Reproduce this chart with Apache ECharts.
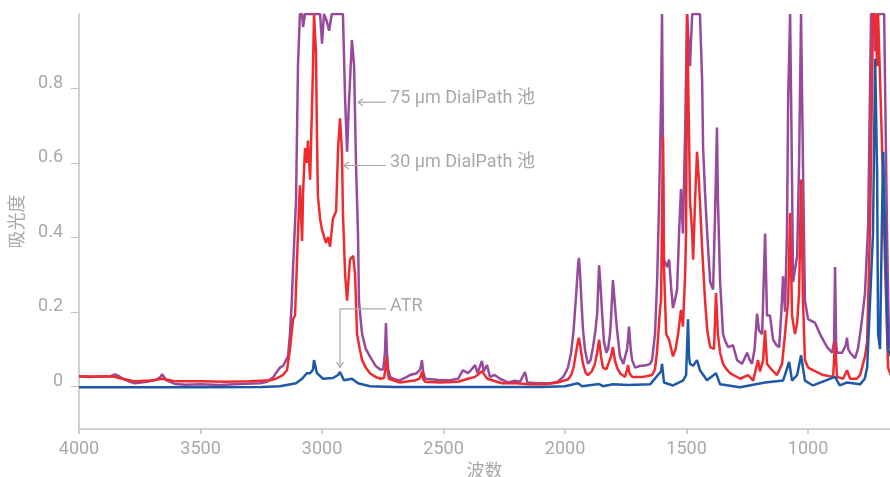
<!DOCTYPE html>
<html>
<head>
<meta charset="utf-8">
<script src="https://cdn.jsdelivr.net/npm/echarts@6/dist/echarts.min.js"></script>
<style>
html,body{margin:0;padding:0;background:#fff;}
#chart{width:890px;height:477px;}
</style>
</head>
<body>
<div id="chart"></div>
<script>
// ---- Data (wavenumber cm-1, absorbance) ----
const xTicks = [4000, 3500, 3000, 2500, 2000, 1500, 1000];
const yTicks = [0, 0.2, 0.4, 0.6, 0.8];

const wn75 = [4000,3960,3900,3870,3852,3835,3820,3790,3770,3720,3680,3665,3658,3650,3640,3605,3560,3500,3420,3337,3255,3226,3200,3190,3173,3160,3152,3140,3132,3125,3119,3107,3099,3091,3082,3078,3070,3008,3000,2992,2980,2971,2960,2914,2905,2897,2890,2877,2868,2860,2852,2848,2840,2835,2820,2803,2780,2761,2748,2741,2737,2733,2728,2720,2700,2679,2650,2638,2610,2597,2592,2589,2584,2576,2540,2514,2473,2440,2420,2400,2391,2370,2360,2342,2335,2321,2309,2290,2268,2235,2206,2185,2165,2155,2115,2060,2030,2008,1995,1988,1975,1965,1955,1947,1943,1938,1932,1926,1918,1906,1895,1885,1875,1868,1860,1855,1848,1840,1830,1823,1815,1811,1803,1795,1786,1774,1760,1753,1745,1741,1737,1730,1724,1712,1690,1680,1663,1650,1642,1630,1621,1613,1605,1601,1597,1593,1589,1580,1572,1564,1556,1545,1539,1531,1523,1515,1506,1498,1490,1486,1477,1445,1436,1432,1424,1416,1403,1391,1383,1375,1371,1362,1350,1340,1329,1309,1292,1272,1251,1240,1231,1220,1210,1202,1189,1177,1169,1157,1144,1130,1119,1110,1103,1095,1087,1082,1074,1066,1062,1045,1037,1029,1021,1013,1000,971,951,922,901,893,889,885,881,860,845,840,835,827,807,795,786,778,766,753,741,730,724,716,687,675,667,660];
const abs75 = [0.027,0.025,0.026,0.027,0.032,0.027,0.02,0.012,0.008,0.012,0.018,0.025,0.032,0.025,0.016,0.006,0.004,0.005,0.003,0.006,0.008,0.012,0.025,0.035,0.05,0.055,0.06,0.08,0.14,0.22,0.32,0.5,0.86,1.0,1.0,0.965,1.0,1.0,0.92,1.0,0.98,0.955,1.0,1.0,0.77,0.63,0.75,0.93,0.86,0.59,0.41,0.23,0.17,0.14,0.1,0.08,0.055,0.045,0.045,0.09,0.17,0.09,0.045,0.025,0.018,0.016,0.025,0.03,0.035,0.045,0.055,0.07,0.04,0.02,0.018,0.016,0.016,0.02,0.043,0.035,0.04,0.057,0.035,0.068,0.04,0.057,0.025,0.03,0.02,0.01,0.015,0.012,0.038,0.01,0.008,0.008,0.012,0.025,0.04,0.05,0.09,0.15,0.24,0.32,0.345,0.3,0.22,0.15,0.097,0.06,0.07,0.105,0.15,0.195,0.325,0.28,0.2,0.12,0.09,0.1,0.14,0.18,0.285,0.22,0.15,0.08,0.06,0.065,0.1,0.125,0.16,0.1,0.07,0.05,0.055,0.055,0.057,0.06,0.07,0.14,0.285,0.5,0.77,1.0,0.6,0.34,0.34,0.32,0.34,0.27,0.21,0.24,0.26,0.41,0.53,0.41,0.68,1.0,1.0,0.86,1.0,1.0,0.82,0.64,0.52,0.42,0.28,0.26,0.455,0.695,0.5,0.28,0.14,0.12,0.105,0.11,0.07,0.06,0.09,0.07,0.06,0.1,0.195,0.15,0.14,0.41,0.19,0.19,0.125,0.11,0.105,0.2,0.295,0.2,0.41,0.77,1.0,0.55,0.28,0.35,0.6,1.0,0.59,0.23,0.18,0.17,0.14,0.105,0.09,0.12,0.32,0.12,0.09,0.09,0.11,0.13,0.1,0.09,0.075,0.1,0.14,0.18,0.25,0.43,1.0,1.0,0.9,1.0,1.0,0.4,0.12,0.1];

const wn30 = [4000,3950,3900,3860,3820,3770,3700,3658,3600,3500,3400,3300,3214,3190,3161,3144,3132,3119,3111,3099,3091,3082,3078,3070,3062,3058,3049,3037,3033,3025,3021,3017,3008,3000,2992,2984,2975,2967,2955,2942,2934,2926,2918,2914,2905,2897,2885,2872,2864,2856,2845,2835,2820,2803,2780,2761,2745,2738,2733,2729,2725,2679,2620,2600,2592,2589,2584,2576,2514,2440,2400,2370,2342,2320,2260,2200,2150,2080,2030,2000,1988,1975,1965,1955,1947,1943,1938,1930,1926,1915,1906,1890,1877,1868,1860,1852,1844,1830,1823,1811,1803,1795,1786,1774,1753,1745,1741,1735,1724,1679,1642,1630,1621,1609,1605,1601,1597,1593,1584,1572,1556,1545,1535,1523,1515,1506,1502,1498,1490,1486,1477,1473,1465,1457,1449,1436,1424,1415,1403,1387,1379,1371,1362,1350,1335,1321,1280,1247,1226,1206,1198,1185,1177,1169,1148,1128,1107,1095,1082,1074,1066,1054,1045,1037,1029,1021,1013,1000,980,938,897,889,881,856,840,827,799,786,778,766,757,745,733,724,716,712,696,683,671,660];
const abs30 = [0.027,0.026,0.027,0.026,0.02,0.013,0.015,0.02,0.013,0.013,0.012,0.013,0.016,0.02,0.03,0.043,0.1,0.18,0.19,0.41,0.54,0.39,0.52,0.64,0.6,0.66,0.555,0.86,1.0,0.9,0.68,0.51,0.45,0.42,0.42,0.385,0.4,0.375,0.45,0.47,0.64,0.72,0.63,0.465,0.3,0.23,0.34,0.35,0.3,0.14,0.1,0.07,0.05,0.035,0.025,0.02,0.022,0.05,0.08,0.04,0.02,0.01,0.015,0.02,0.03,0.04,0.02,0.012,0.01,0.012,0.02,0.025,0.04,0.02,0.008,0.008,0.005,0.005,0.01,0.016,0.018,0.03,0.05,0.09,0.12,0.13,0.11,0.075,0.06,0.035,0.03,0.04,0.06,0.09,0.125,0.08,0.05,0.045,0.05,0.08,0.105,0.07,0.05,0.035,0.025,0.045,0.057,0.035,0.025,0.025,0.03,0.045,0.097,0.21,0.23,0.455,0.67,0.32,0.14,0.125,0.08,0.1,0.14,0.205,0.16,0.3,0.41,1.0,0.68,0.5,0.41,0.34,0.5,0.63,0.55,0.37,0.23,0.15,0.105,0.1,0.25,0.14,0.09,0.06,0.045,0.035,0.02,0.03,0.015,0.07,0.04,0.07,0.15,0.06,0.043,0.03,0.06,0.14,0.23,0.465,0.19,0.14,0.17,0.25,0.555,0.23,0.07,0.05,0.043,0.03,0.025,0.12,0.025,0.02,0.043,0.02,0.02,0.03,0.05,0.08,0.12,0.43,1.0,1.0,0.86,1.0,0.65,0.32,0.05,0.03];

const wnATR = [4000,3500,3250,3173,3107,3082,3062,3049,3037,3033,3021,2996,2955,2934,2926,2910,2877,2852,2803,2700,2400,2100,2000,1947,1930,1860,1844,1803,1741,1650,1605,1601,1593,1556,1515,1502,1494,1490,1486,1473,1457,1445,1416,1379,1362,1280,1177,1103,1078,1066,1045,1029,1013,980,889,870,840,786,767,757,745,733,724,716,712,704,696,691,679,671,660];
const absATR = [-0.003,-0.003,-0.002,0.0,0.008,0.02,0.035,0.035,0.045,0.07,0.035,0.02,0.022,0.03,0.038,0.016,0.02,0.008,0.0,-0.002,-0.002,-0.002,0.0,0.008,0.0,0.006,0.0,0.005,0.003,0.005,0.04,0.06,0.01,0.002,0.015,0.03,0.18,0.08,0.06,0.055,0.07,0.043,0.016,0.035,0.005,-0.003,0.01,0.015,0.065,0.015,0.03,0.083,0.015,0.002,0.025,0.002,0.01,0.005,0.02,0.05,0.23,0.41,0.88,0.57,0.14,0.1,0.45,0.63,0.3,0.1,0.08];

// annotation anchors in data units [wavenumber, absorbance]
const notes = [
  {text: '75 µm DialPath 池', textAt: [2720, 0.776], path: [[2737, 0.763], [2852, 0.763]], dir: 'left'},
  {text: '30 µm DialPath 池', textAt: [2720, 0.604], path: [[2737, 0.593], [2910, 0.593]], dir: 'left'},
  {text: 'ATR', textAt: [2720, 0.218], path: [[2737, 0.2075], [2926, 0.2075], [2926, 0.051]], dir: 'down'}
];

const FONT = 'Roboto, "Noto Sans CJK SC", sans-serif';
const GRAY = '#a9a9a9';
const AXIS = '#c2c2c2';

const pairs = (w, a) => w.map((x, i) => [x, a[i]]);

const chart = echarts.init(document.getElementById('chart'), null, {renderer: 'canvas'});
const option = {
  animation: false,
  backgroundColor: '#ffffff',
  grid: {left: 79, right: 0, top: 14, bottom: 48, outerBoundsMode: 'none', containLabel: false},
  xAxis: {
    type: 'value', inverse: true, min: 663, max: 4000,
    name: '波数', nameLocation: 'middle', nameGap: 30,
    nameTextStyle: {color: GRAY, fontSize: 18, fontFamily: FONT},
    axisLine: {show: true, onZero: false, lineStyle: {color: AXIS, width: 1.5}},
    axisTick: {show: true, length: 5, customValues: xTicks, lineStyle: {color: AXIS, width: 1.5}},
    axisLabel: {color: GRAY, fontSize: 18, fontFamily: FONT, margin: 12,
      customValues: xTicks, formatter: v => String(v)},
    splitLine: {show: false}
  },
  yAxis: {
    type: 'value', min: -0.115, max: 1.0,
    name: '吸光度', nameLocation: 'middle', nameGap: 52,
    nameTextStyle: {color: GRAY, fontSize: 18, fontFamily: FONT},
    axisLine: {show: true, onZero: false, lineStyle: {color: AXIS, width: 1.5}},
    axisTick: {show: true, length: 8, customValues: yTicks, lineStyle: {color: AXIS, width: 1}},
    axisLabel: {color: GRAY, fontSize: 18, fontFamily: FONT, margin: 16,
      customValues: yTicks, verticalAlign: 'bottom', lineHeight: 10, formatter: v => String(v)},
    splitLine: {show: false}
  },
  series: [
    {name: '75 µm DialPath 池', type: 'line', data: pairs(wn75, abs75), showSymbol: false,
      lineStyle: {color: '#974a9c', width: 2.5}, itemStyle: {color: '#974a9c'}, z: 2},
    {name: '30 µm DialPath 池', type: 'line', data: pairs(wn30, abs30), showSymbol: false,
      lineStyle: {color: '#ef2b30', width: 2.5}, itemStyle: {color: '#ef2b30'}, z: 3},
    {name: 'ATR', type: 'line', data: pairs(wnATR, absATR), showSymbol: false,
      lineStyle: {color: '#1d59a8', width: 2.5}, itemStyle: {color: '#1d59a8'}, z: 4}
  ]
};
chart.setOption(option);

function buildNotes() {
  const els = [];
  notes.forEach(n => {
    const tp = chart.convertToPixel({gridIndex: 0}, n.textAt);
    els.push({type: 'text', x: tp[0], y: tp[1] + 1, z: 10,
      style: {text: n.text, fill: GRAY, font: '18px ' + FONT, textAlign: 'left', textVerticalAlign: 'middle'}});
    const pts = n.path.map(p => chart.convertToPixel({gridIndex: 0}, p));
    els.push({type: 'polyline', z: 10, shape: {points: pts},
      style: {stroke: GRAY, lineWidth: 1.2, fill: null}});
    const tip = pts[pts.length - 1];
    let head;
    if (n.dir === 'left') head = [[tip[0] + 5, tip[1] - 3.5], tip, [tip[0] + 5, tip[1] + 3.5]];
    else head = [[tip[0] - 3.5, tip[1] - 5], tip, [tip[0] + 3.5, tip[1] - 5]];
    els.push({type: 'polyline', z: 10, shape: {points: head},
      style: {stroke: GRAY, lineWidth: 1.2, fill: null}});
  });
  chart.setOption({graphic: {elements: els}});
}
buildNotes();
</script>
</body>
</html>
